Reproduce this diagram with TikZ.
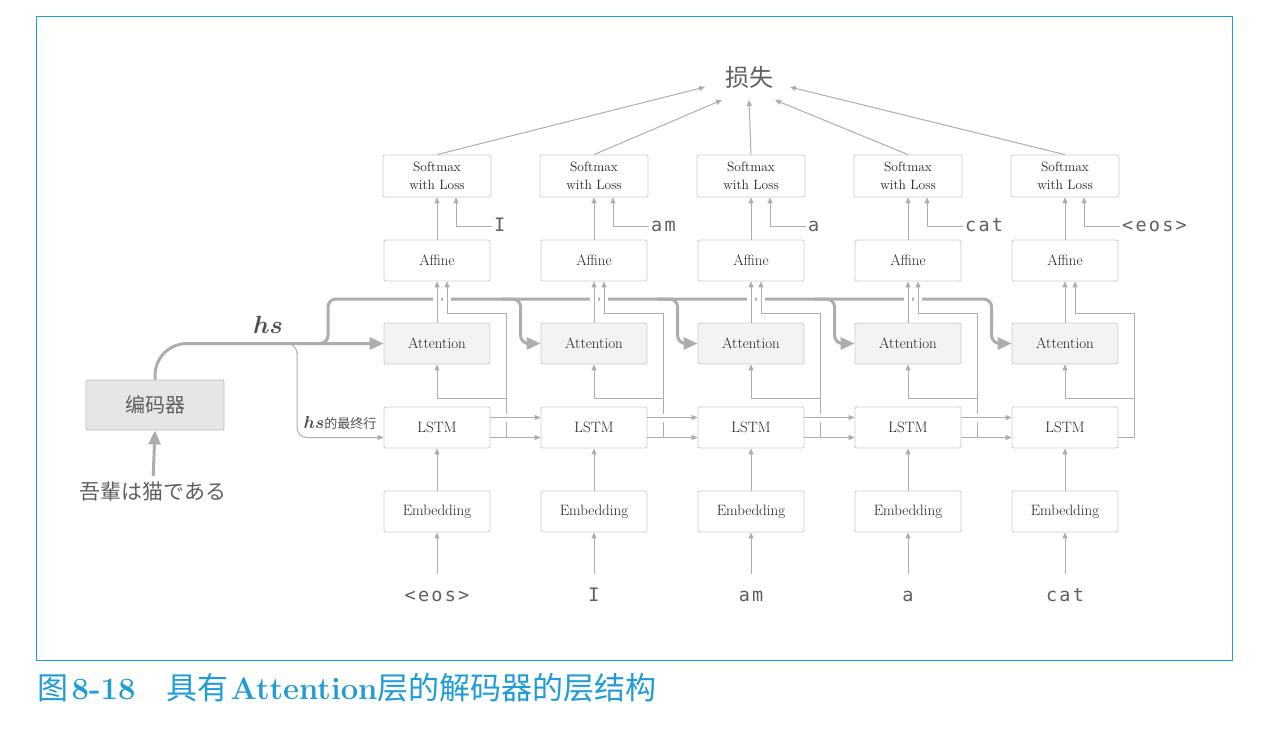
\documentclass[tikz,border=0pt]{standalone}
\usepackage{fontspec}
\usepackage{amsmath}
\usetikzlibrary{arrows.meta,calc}
\newfontfamily\cjk{Noto Sans CJK SC}
\newfontfamily\jpf{Noto Sans CJK JP}
\newfontfamily\monof{DejaVu Sans Mono}[LetterSpace=12]
\definecolor{ln}{HTML}{ADADAD}
\definecolor{bd}{HTML}{CDCDCD}
\definecolor{attfill}{HTML}{F2F3F3}
\definecolor{encfill}{HTML}{E6E6E6}
\definecolor{encbd}{HTML}{BDBDBD}
\definecolor{txt}{HTML}{222222}
\definecolor{wtxt}{HTML}{5F5F5F}
\definecolor{blu}{HTML}{1F9BD7}
\begin{document}
\begin{tikzpicture}[x=1pt,y=-1pt,
 box/.style={draw=bd, line width=0.8pt, rounded corners=2pt, minimum width=106pt, minimum height=41pt, inner sep=0pt, text=txt, font=\fontsize{15}{17}\selectfont, fill=white},
 attbox/.style={box, fill=attfill},
 smbox/.style={box, minimum width=108pt, minimum height=42pt, font=\fontsize{13.5}{17.5}\selectfont, align=center},
 word/.style={text=wtxt, font=\monof\fontsize{18.5}{21}\selectfont, inner sep=2pt, text height=13pt, text depth=3pt},
 arr/.style={draw=ln, line width=1pt, -{Triangle[length=6pt,width=5pt]}},
 thinln/.style={draw=ln, line width=1pt},
 hsline/.style={draw=ln, line width=3pt},
 tarr/.style={hsline, -{Triangle[length=14pt,width=12pt]}},
 bridge/.style={draw=white, line width=5pt},
 captxt/.style={text=blu, inner sep=0pt, anchor=base west},
]
\useasboundingbox (0,0) rectangle (1279,742);
\draw[blu, line width=1pt] (36,16) rectangle (1232,660);

% columns
\foreach \i/\x/\inw/\outw in {1/437/{<eos>}/I, 2/594/I/am, 3/751/am/a, 4/908/a/cat, 5/1065/cat/{<eos>}} {
 \node[smbox] (sm\i) at (\x,176) {Softmax\\with Loss};
 \node[box] (aff\i) at (\x,260.5) {Affine};
 \node[attbox] (att\i) at (\x,343.5) {Attention};
 \node[box] (lstm\i) at (\x,427.5) {LSTM};
 \node[box] (emb\i) at (\x,511.5) {Embedding};
 \node[word, anchor=base] (in\i) at (\x,601) {\inw};
 \node[word, anchor=base west] (out\i) at (\x+55,231) {\outw};
 \coordinate (v\i) at ($(lstm\i.east)+(16,10)$);
}

% loss
\node[text=wtxt, font=\cjk\fontsize{24}{26}\selectfont, inner sep=0pt] (loss) at (749,77) {损失};

% encoder
\node[draw=encbd, fill=encfill, line width=0.8pt, rounded corners=2pt, minimum width=138pt, minimum height=50pt, inner sep=0pt, text=wtxt, font=\cjk\fontsize{20}{22}\selectfont] (enc) at (155,405) {编码器};
\node[text=wtxt, font=\jpf\fontsize{21}{23}\selectfont, inner sep=0pt] (jp) at (153,492) {吾輩は猫である};
\draw[tarr, shorten <=6pt] (jp.north) -- (enc.south);

% hs thick lines
\node[text=txt!80, font=\fontsize{26}{28}\selectfont, inner sep=0pt] (hslab) at (268,325) {$\boldsymbol{hs}$};
\draw[tarr, rounded corners=32pt] (enc.north) |- (att1.west);
\coordinate (br) at (328,343.5);
\draw[hsline, rounded corners=8pt] ($(br)+(-30,0)$) -- (br) -- ($(br)+(0,-44.5)$) -- ($(att5.west)+(-20,-44.5)$) -- ($(att5.west)+(-20,-20)$);
\draw[tarr, rounded corners=8pt] ($(att5.west)+(-20,-30)$) -- ($(att5.west)+(-20,0)$) -- (att5.west);
\foreach \k in {2,3,4} {
 \draw[tarr, rounded corners=8pt] ($(att\k.west)+(-40,-44.5)$) -- ($(att\k.west)+(-20,-44.5)$) -- ($(att\k.west)+(-20,0)$) -- (att\k.west);
}
% thin hs branch to first LSTM
\draw[arr, rounded corners=10pt] (284,343.5) -- (297,343.5) -- (297,437.5) -- ($(lstm1.west)+(0,10)$);
\node[text=txt!80, inner sep=0pt] (hslast) at (340,423) {{\fontsize{18}{20}\selectfont$\boldsymbol{hs}$}{\cjk\fontsize{13}{15}\selectfont 的最终行}};

% bridges over the thick line
\foreach \i in {1,...,5} {
 \draw[bridge] ($(aff\i.south)+(-4,18)$) -- ($(aff\i.south)+(4,18)$);
 \draw[bridge] ($(aff\i.south)+(6,18)$) -- ($(aff\i.south)+(14,18)$);
}

% per-column connectors
\foreach \i in {1,...,5} {
 \draw[arr, shorten <=12pt] (in\i.north) -- (emb\i.south);
 \draw[arr] (emb\i.north) -- (lstm\i.south);
 \draw[arr] (att\i.north) -- (aff\i.south);
 \draw[arr] (aff\i.north) -- (sm\i.south);
 \draw[arr] (out\i.west) -| ($(sm\i.south)+(19,0)$);
 \draw[arr] (v\i) |- ($(aff\i.south)+(10,32)$) -- ($(aff\i.south)+(10,0)$);
 \draw[arr] ($(v\i)+(0,-39.5)$) -| (att\i.south);
 \draw[thinln] ($(lstm\i.east)+(0,10)$) -- (v\i);
}
% LSTM to LSTM
\foreach \i/\j in {1/2,2/3,3/4,4/5} {
 \draw[draw=white, line width=4pt] ($(v\i)+(0,-24)$) -- ($(v\i)+(0,-16)$);
 \draw[arr] ($(lstm\i.east)+(0,-10)$) -- ($(lstm\j.west)+(0,-10)$);
 \draw[arr] ($(lstm\i.east)+(0,10)$) -- ($(lstm\j.west)+(0,10)$);
}

% to loss
\draw[arr] (sm1.north) -- ($(loss)+(-44,10)$);
\draw[arr] (sm2.north) -- ($(loss)+(-27,23)$);
\draw[arr] (sm3.north) -- ($(loss)+(0,23)$);
\draw[arr] (sm4.north) -- ($(loss)+(26,23)$);
\draw[arr] (sm5.north) -- ($(loss)+(41,10)$);

% caption
\node[captxt, font=\cjk\fontsize{31}{33}\selectfont] (c1) at (37,699) {图};
\node[captxt, font=\bfseries\fontsize{31}{33}\selectfont] (c2) at ($(c1.base east)+(3,0)$) {8-18};
\node[captxt, font=\cjk\fontsize{31}{33}\selectfont] (c3) at (166,699) {具有};
\node[captxt, font=\bfseries\fontsize{31}{33}\selectfont\addfontfeatures{LetterSpace=13}] (c4) at ($(c3.base east)+(2,0)$) {Attention};
\node[captxt, font=\cjk\fontsize{31}{33}\selectfont] (c5) at (c4.base east) {层的解码器的层结构};
\end{tikzpicture}
\end{document}
